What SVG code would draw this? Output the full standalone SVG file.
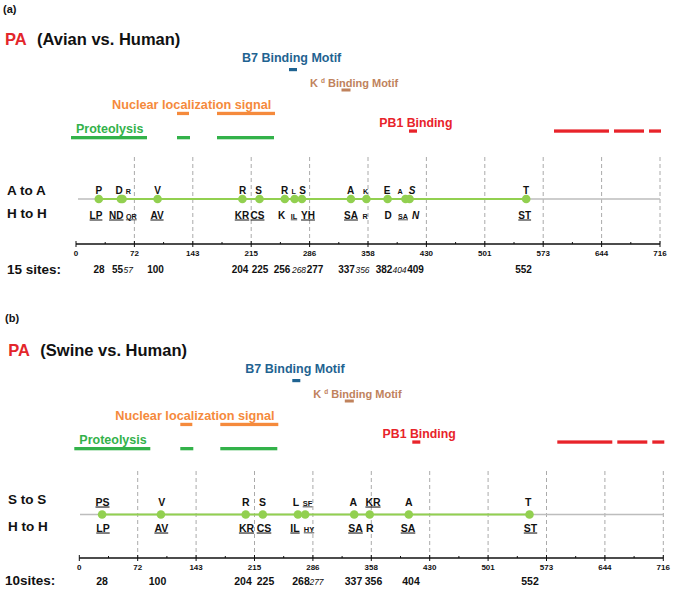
<svg xmlns="http://www.w3.org/2000/svg" xmlns:xlink="http://www.w3.org/1999/xlink" width="675" height="591" viewBox="0 0 675 591">
<style>
text{font-family:"Liberation Sans",Arial,sans-serif;font-weight:bold;fill:#111}
.big{font-size:10px;text-anchor:middle}
.sm{font-size:7.2px;text-anchor:middle}
.bb{font-size:10.5px;text-anchor:middle}
.bs{font-size:7.5px;text-anchor:middle}
.u{text-decoration:underline}
.it{font-style:italic}
.tk{font-size:8px;text-anchor:middle}
.num{font-size:10px;text-anchor:middle}
.numb{font-size:10.5px;text-anchor:middle}
.ni{font-size:8.5px;font-style:italic;font-weight:normal;text-anchor:middle}
.side{font-size:13.5px}
.grid{stroke:#a0a0a0;stroke-width:0.9;stroke-dasharray:4 3;fill:none}
.grey{stroke:#bdbdbd;stroke-width:1.3}
.green{stroke:#92d050;stroke-width:2.2}
.dot{fill:#92d050}
.ax{stroke:#111;stroke-width:1.4}
.tkl{stroke:#111;stroke-width:1}
.title{font-size:16.5px}
.b7{fill:#1f6391;font-size:12.5px}
.kd{fill:#c0825c;font-size:11px}
.nls{fill:#f58a3c;font-size:12.7px}
.pro{fill:#33b24a;font-size:12.5px}
.pb1{fill:#e8232a;font-size:12.3px}
</style>
<defs>
<g id="axis">
<line class="grid" x1="134.4" y1="157" x2="134.4" y2="244"/>
<line class="grid" x1="192.8" y1="157" x2="192.8" y2="244"/>
<line class="grid" x1="251.2" y1="157" x2="251.2" y2="244"/>
<line class="grid" x1="309.6" y1="157" x2="309.6" y2="244"/>
<line class="grid" x1="368" y1="157" x2="368" y2="244"/>
<line class="grid" x1="426.4" y1="157" x2="426.4" y2="244"/>
<line class="grid" x1="484.8" y1="157" x2="484.8" y2="244"/>
<line class="grid" x1="543.2" y1="157" x2="543.2" y2="244"/>
<line class="grid" x1="601.6" y1="157" x2="601.6" y2="244"/>
<line class="grid" x1="660" y1="157" x2="660" y2="244"/>
<line class="ax" x1="76" y1="244" x2="660" y2="244"/>
<path class="tkl" d="M76 241V247M134.4 241V247M192.8 241V247M251.2 241V247M309.6 241V247M368 241V247M426.4 241V247M484.8 241V247M543.2 241V247M601.6 241V247M660 241V247"/>
<path class="tkl" d="M105.2 242V244M163.6 242V244M222 242V244M280.4 242V244M338.8 242V244M397.2 242V244M455.6 242V244M514 242V244M572.4 242V244M630.8 242V244"/>
<text class="tk" x="76" y="256">0</text>
<text class="tk" x="134.4" y="256">72</text>
<text class="tk" x="192.8" y="256">143</text>
<text class="tk" x="251.2" y="256">215</text>
<text class="tk" x="309.6" y="256">286</text>
<text class="tk" x="368" y="256">358</text>
<text class="tk" x="426.4" y="256">430</text>
<text class="tk" x="484.8" y="256">501</text>
<text class="tk" x="543.2" y="256">573</text>
<text class="tk" x="601.6" y="256">644</text>
<text class="tk" x="660" y="256">716</text>
</g>
<g id="annot">
<text class="b7" x="242" y="62">B7 Binding Motif</text>
<rect x="289" y="68" width="8" height="3.2" fill="#1f6391"/>
<text class="kd" x="310" y="87">K<tspan dx="3" dy="-4" font-size="6.5">d</tspan><tspan dy="4"> Binding Motif</tspan></text>
<rect x="341.5" y="88.5" width="9" height="3" fill="#c0825c"/>
<text class="nls" x="112" y="109">Nuclear localization signal</text>
<rect x="177" y="111.8" width="12" height="3.3" fill="#f58a3c"/>
<rect x="217" y="111.8" width="58" height="3.3" fill="#f58a3c"/>
<text class="pro" x="76" y="132.7">Proteolysis</text>
<rect x="71" y="136" width="76" height="3.3" fill="#33b24a"/>
<rect x="177" y="136" width="13" height="3.3" fill="#33b24a"/>
<rect x="217" y="136" width="57" height="3.3" fill="#33b24a"/>
<text class="pb1" x="379.3" y="127.3">PB1 Binding</text>
<rect x="409" y="129.4" width="8" height="3.3" fill="#e8232a"/>
<rect x="554" y="129.4" width="55" height="3.3" fill="#e8232a"/>
<rect x="614" y="129.4" width="30" height="3.3" fill="#e8232a"/>
<rect x="649" y="129.4" width="12" height="3.3" fill="#e8232a"/>
</g>
</defs>

<!-- Panel (a) -->
<g id="panel-a-header">
<text x="3" y="13" font-size="11">(a)</text>
<text class="title" x="5" y="45" style="fill:#e3262b">PA</text>
<text class="title" x="37" y="45">(Avian vs. Human)</text>
</g>
<g id="panel-a-annotations"><use href="#annot" xlink:href="#annot"/></g>
<g id="panel-a-axis"><use href="#axis" xlink:href="#axis"/></g>
<g id="panel-a-labels">
<text class="side" x="7" y="195">A to A</text>
<text class="side" x="7" y="218">H to H</text>
<text class="side" x="7" y="273.5">15 sites:</text>
</g>
<g id="panel-a-connectors">
<line class="grey" x1="78" y1="199" x2="660" y2="199"/>
<line class="green" x1="98.8" y1="199" x2="526.2" y2="199"/>
</g>
<g id="a-s28"><circle class="dot" cx="98.8" cy="199" r="4.3"/><text class="big" x="98.8" y="193.5">P</text><text class="big u" x="96" y="218.5">LP</text><text class="num" x="99" y="273.3">28</text></g>
<g id="a-s55"><circle class="dot" cx="120.9" cy="199" r="4.3"/><text class="big" x="119" y="193.5">D</text><text class="big u" x="116.3" y="218.5">ND</text><text class="num" x="117.5" y="273.3">55</text></g>
<g id="a-s57"><circle class="dot" cx="122.5" cy="199" r="4.3"/><text class="sm" x="128.3" y="193.5">R</text><text class="sm u" x="131.3" y="218.5">QR</text><text class="ni" x="128.3" y="273.3">57</text></g>
<g id="a-s100"><circle class="dot" cx="157.6" cy="199" r="4.3"/><text class="big" x="157.6" y="193.5">V</text><text class="big u" x="157" y="218.5">AV</text><text class="num" x="155.5" y="273.3">100</text></g>
<g id="a-s204"><circle class="dot" cx="242.4" cy="199" r="4.3"/><text class="big" x="242.5" y="193.5">R</text><text class="big u" x="242" y="218.5">KR</text><text class="num" x="240" y="273.3">204</text></g>
<g id="a-s225"><circle class="dot" cx="259.5" cy="199" r="4.3"/><text class="big" x="258.5" y="193.5">S</text><text class="big u" x="257.5" y="218.5">CS</text><text class="num" x="260" y="273.3">225</text></g>
<g id="a-s256"><circle class="dot" cx="284.8" cy="199" r="4.3"/><text class="big" x="284.5" y="193.5">R</text><text class="big" x="281.7" y="218.5">K</text><text class="num" x="282" y="273.3">256</text></g>
<g id="a-s268"><circle class="dot" cx="294.6" cy="199" r="4.3"/><text class="sm" x="293.7" y="193.5">L</text><text class="sm u" x="294" y="218.5">IL</text><text class="ni" x="299" y="273.3">268</text></g>
<g id="a-s277"><circle class="dot" cx="301.9" cy="199" r="4.3"/><text class="big" x="302.5" y="193.5">S</text><text class="big u" x="308" y="218.5">YH</text><text class="num" x="315" y="273.3">277</text></g>
<g id="a-s337"><circle class="dot" cx="350.9" cy="199" r="4.3"/><text class="big" x="350.7" y="193.5">A</text><text class="big u" x="351" y="218.5">SA</text><text class="num" x="346.5" y="273.3">337</text></g>
<g id="a-s356"><circle class="dot" cx="366.4" cy="199" r="4.3"/><text class="sm" x="365.5" y="193.5">K</text><text class="sm" x="365" y="218.5">R</text><text class="ni" x="362.5" y="273.3">356</text></g>
<g id="a-s382"><circle class="dot" cx="387.6" cy="199" r="4.3"/><text class="big" x="387" y="193.5">E</text><text class="big" x="388" y="218.5">D</text><text class="num" x="384" y="273.3">382</text></g>
<g id="a-s404"><circle class="dot" cx="405.5" cy="199" r="4.3"/><text class="sm" x="400" y="193.5">A</text><text class="sm u" x="403" y="218.5">SA</text><text class="ni" x="399.5" y="273.3">404</text></g>
<g id="a-s409"><circle class="dot" cx="409.6" cy="199" r="4.3"/><text class="big it" x="412" y="193.5">S</text><text class="big it" x="415.5" y="218.5">N</text><text class="num" x="415.5" y="273.3">409</text></g>
<g id="a-s552"><circle class="dot" cx="526.2" cy="199" r="4.3"/><text class="big" x="526" y="193.5">T</text><text class="big u" x="524.7" y="218.5">ST</text><text class="num" x="523.5" y="273.3">552</text></g>

<!-- Panel (b) -->
<g id="panel-b-header">
<text x="5" y="322" font-size="11">(b)</text>
<text class="title" x="8.3" y="356" style="fill:#e3262b">PA</text>
<text class="title" x="40.3" y="356">(Swine vs. Human)</text>
</g>
<g id="panel-b-annotations"><use href="#annot" xlink:href="#annot" transform="translate(3.3,311)"/></g>
<g id="panel-b-axis"><use href="#axis" xlink:href="#axis" transform="translate(3.3,314)"/></g>
<g id="panel-b-labels">
<text class="side" x="8" y="504">S to S</text>
<text class="side" x="8" y="530.7">H to H</text>
<text class="side" x="5" y="584.5">10sites:</text>
</g>
<g id="panel-b-connectors">
<line class="grey" x1="80" y1="514.5" x2="663.3" y2="514.5"/>
<line class="green" x1="102.1" y1="514.5" x2="529.5" y2="514.5"/>
</g>
<g id="b-s28"><circle class="dot" cx="102.1" cy="514.5" r="4.3"/><text class="bb u" x="102.5" y="505.5">PS</text><text class="bb u" x="103" y="531.5">LP</text><text class="numb" x="102" y="585">28</text></g>
<g id="b-s100"><circle class="dot" cx="160.9" cy="514.5" r="4.3"/><text class="bb" x="161.7" y="505.5">V</text><text class="bb u" x="161.3" y="531.5">AV</text><text class="numb" x="157.5" y="585">100</text></g>
<g id="b-s204"><circle class="dot" cx="245.7" cy="514.5" r="4.3"/><text class="bb" x="245.7" y="505.5">R</text><text class="bb u" x="246.5" y="531.5">KR</text><text class="numb" x="243" y="585">204</text></g>
<g id="b-s225"><circle class="dot" cx="262.8" cy="514.5" r="4.3"/><text class="bb" x="262.5" y="505.5">S</text><text class="bb u" x="264" y="531.5">CS</text><text class="numb" x="265.5" y="585">225</text></g>
<g id="b-s268"><circle class="dot" cx="297.9" cy="514.5" r="4.3"/><text class="bb" x="296" y="505.5">L</text><text class="bb u" x="295" y="531.5">IL</text><text class="numb" x="301" y="585">268</text></g>
<g id="b-s277"><circle class="dot" cx="305.2" cy="514.5" r="4.3"/><text class="bs u" x="307.5" y="505.5">SF</text><text class="bs u" x="309" y="531.5">HY</text><text class="ni" x="316.5" y="585">277</text></g>
<g id="b-s337"><circle class="dot" cx="354.2" cy="514.5" r="4.3"/><text class="bb" x="353.3" y="505.5">A</text><text class="bb u" x="355.5" y="531.5">SA</text><text class="numb" x="353.5" y="585">337</text></g>
<g id="b-s356"><circle class="dot" cx="369.7" cy="514.5" r="4.3"/><text class="bb u" x="373" y="505.5">KR</text><text class="bb" x="369.7" y="531.5">R</text><text class="numb" x="373.5" y="585">356</text></g>
<g id="b-s404"><circle class="dot" cx="408.8" cy="514.5" r="4.3"/><text class="bb" x="408.7" y="505.5">A</text><text class="bb u" x="408" y="531.5">SA</text><text class="numb" x="411" y="585">404</text></g>
<g id="b-s552"><circle class="dot" cx="529.5" cy="514.5" r="4.3"/><text class="bb" x="528.3" y="505.5">T</text><text class="bb u" x="530.5" y="531.5">ST</text><text class="numb" x="530" y="585">552</text></g>
</svg>
